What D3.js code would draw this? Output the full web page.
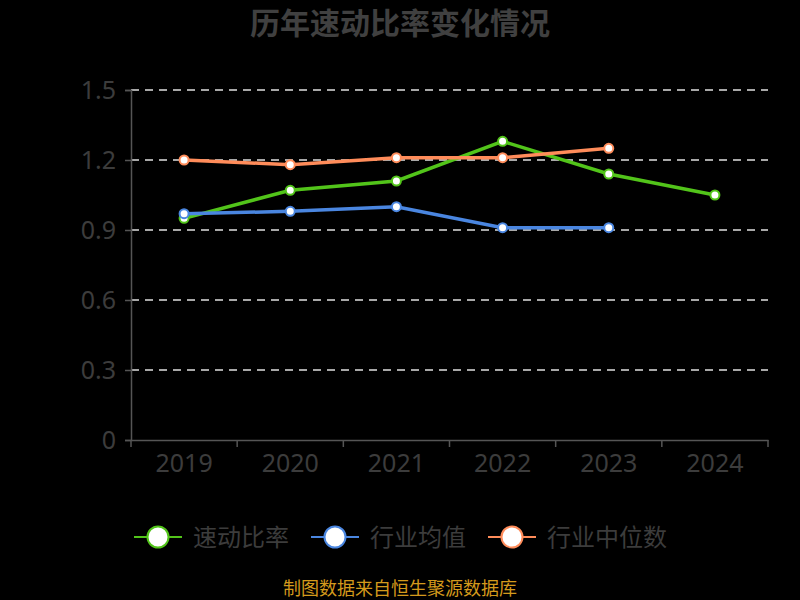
<!DOCTYPE html>
<html>
<head>
<meta charset="utf-8">
<script src="https://cdn.jsdelivr.net/npm/d3@7"></script>
<style>
  body { margin: 0; background: #000; }
  svg { display: block; font-family: "Noto Sans CJK SC", "Noto Sans", sans-serif; }
</style>
</head>
<body>
<svg id="chart" width="800" height="600"></svg>
<script>
// Data
var years = ["2019", "2020", "2021", "2022", "2023", "2024"];
var yTicks = [0, 0.3, 0.6, 0.9, 1.2, 1.5];
var quickRatio = [0.95, 1.07, 1.11, 1.28, 1.14, 1.05];
var industryAvg = [0.97, 0.98, 1.00, 0.91, 0.91];
var industryMedian = [1.20, 1.18, 1.21, 1.21, 1.25];

var seriesNames = ["速动比率", "行业均值", "行业中位数"];
var seriesColors = ["#52c41a", "#4a86e0", "#ff8c5a"];

var svg = d3.select("#chart");
var margin = {top: 90, right: 32, bottom: 160, left: 131};
var width = 800 - margin.left - margin.right;
var height = 600 - margin.top - margin.bottom;

svg.append("rect")
  .attr("width", 800)
  .attr("height", 600)
  .attr("fill", "#000");

// Title
svg.append("text")
  .attr("x", 400)
  .attr("y", 34)
  .attr("text-anchor", "middle")
  .attr("font-size", 30)
  .attr("font-weight", "bold")
  .attr("fill", "#404040")
  .text("历年速动比率变化情况");

var g = svg.append("g")
  .attr("transform", "translate(" + margin.left + "," + margin.top + ")");

var x = d3.scaleBand()
  .domain(years)
  .range([0, width]);

var y = d3.scaleLinear()
  .domain([0, 1.5])
  .range([height, 0]);

// Grid lines
g.append("g")
  .selectAll("line")
  .data(yTicks.filter(d => d > 0))
  .join("line")
  .attr("x1", 0)
  .attr("x2", width)
  .attr("y1", d => y(d))
  .attr("y2", d => y(d))
  .attr("stroke", "#e0e0e0")
  .attr("stroke-width", 1.5)
  .attr("stroke-dasharray", "8,6");

// Y axis
var yAxis = g.append("g")
  .call(d3.axisLeft(y).tickValues(yTicks).tickSize(6).tickPadding(9)
    .tickFormat(d => d === 0 ? "0" : d3.format(".1f")(d)));
yAxis.select(".domain").attr("stroke", "#555").attr("stroke-width", 1.5);
yAxis.selectAll(".tick line").attr("stroke", "#555").attr("stroke-width", 1.5);
yAxis.selectAll(".tick text")
  .attr("fill", "#3c3c3c")
  .attr("font-size", 25)
  .attr("font-family", "'Noto Sans', sans-serif");

// X axis, ticks on band boundaries
var xAxis = g.append("g")
  .attr("transform", "translate(0," + height + ")")
  .call(d3.axisBottom(x).tickSize(0).tickPadding(14));
xAxis.select(".domain").attr("stroke", "#555").attr("stroke-width", 1.5);
xAxis.selectAll(".tick text")
  .attr("fill", "#3c3c3c")
  .attr("font-size", 25)
  .attr("font-family", "'Noto Sans', sans-serif");
xAxis.selectAll(".boundary")
  .data(d3.range(years.length + 1))
  .join("line")
  .attr("class", "boundary")
  .attr("x1", i => i * x.bandwidth())
  .attr("x2", i => i * x.bandwidth())
  .attr("y1", 0)
  .attr("y2", 7)
  .attr("stroke", "#555")
  .attr("stroke-width", 1.5);

// Series
var series = [quickRatio, industryAvg, industryMedian];
var line = d3.line()
  .x((d, i) => x(years[i]) + x.bandwidth() / 2)
  .y(d => y(d));

series.forEach(function(values, k) {
  var s = g.append("g");
  s.append("path")
    .datum(values)
    .attr("fill", "none")
    .attr("stroke", seriesColors[k])
    .attr("stroke-width", 3.5)
    .attr("d", line);
  s.selectAll("circle")
    .data(values)
    .join("circle")
    .attr("cx", (d, i) => x(years[i]) + x.bandwidth() / 2)
    .attr("cy", d => y(d))
    .attr("r", 4.5)
    .attr("fill", "#fff")
    .attr("stroke", seriesColors[k])
    .attr("stroke-width", 2);
});

// Legend
var legend = svg.append("g")
  .attr("transform", "translate(134,537)");
var item = legend.selectAll("g")
  .data(seriesNames)
  .join("g")
  .attr("transform", (d, i) => "translate(" + (i * 177) + ",0)");
item.append("line")
  .attr("x1", 0)
  .attr("x2", 48)
  .attr("stroke", (d, i) => seriesColors[i])
  .attr("stroke-width", 2);
item.append("circle")
  .attr("cx", 24)
  .attr("r", 10.5)
  .attr("fill", "#fff")
  .attr("stroke", (d, i) => seriesColors[i])
  .attr("stroke-width", 2);
item.append("text")
  .attr("x", 59)
  .attr("y", 9)
  .attr("font-size", 24)
  .attr("fill", "#3c3c3c")
  .text(d => d);

// Source note
svg.append("text")
  .attr("x", 400)
  .attr("y", 595)
  .attr("text-anchor", "middle")
  .attr("font-size", 18)
  .attr("fill", "#d49a1c")
  .text("制图数据来自恒生聚源数据库");
</script>
</body>
</html>
